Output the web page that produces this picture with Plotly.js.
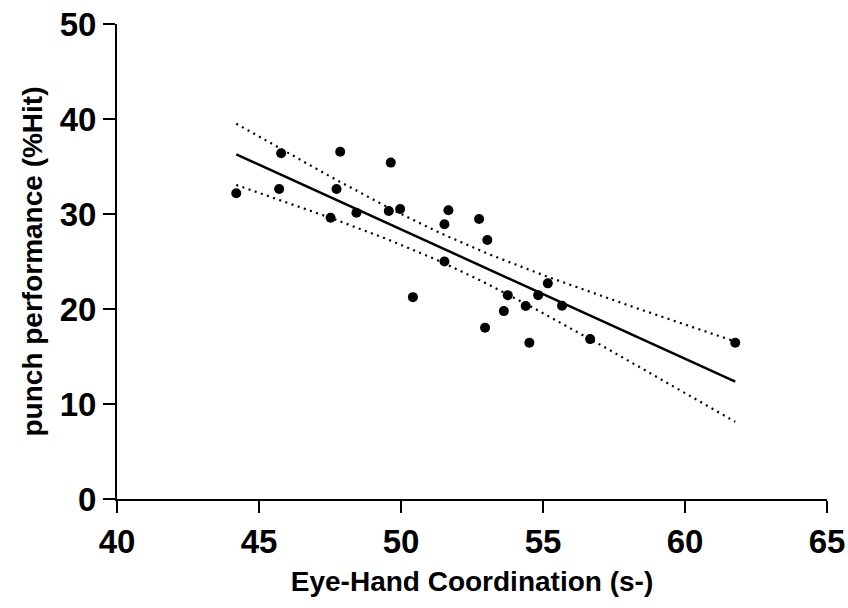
<!DOCTYPE html>
<html>
<head>
<meta charset="utf-8">
<script src="https://cdn.plot.ly/plotly-3.0.1.min.js"></script>
<style>html,body{margin:0;padding:0;background:#fff;}#chart{width:848px;height:608px;}</style>
</head>
<body>
<div id="chart"></div>
<script>
// Data
const eyeHand = [44.20, 45.78, 45.71, 47.86, 47.73, 47.52, 48.43, 49.64, 49.57, 49.97,
                 51.67, 51.53, 51.53, 50.42, 52.75, 53.04, 52.96, 53.76, 53.62, 54.39,
                 54.52, 54.83, 55.17, 55.67, 56.66, 61.77];
const punchHit = [32.18, 36.40, 32.63, 36.56, 32.63, 29.61, 30.14, 35.41, 30.32, 30.53,
                  30.40, 28.93, 25.00, 21.25, 29.47, 27.26, 18.02, 21.46, 19.78, 20.31,
                  16.44, 21.46, 22.70, 20.34, 16.83, 16.44];
const xTicks = [40, 45, 50, 55, 60, 65];
const yTicks = [0, 10, 20, 30, 40, 50];
const xTitle = 'Eye-Hand Coordination (s-)';
const yTitle = 'punch performance (%Hit)';

// Linear regression with 95% confidence band of the mean, computed from the data
const n = eyeHand.length;
const mx = eyeHand.reduce((a, b) => a + b, 0) / n;
const my = punchHit.reduce((a, b) => a + b, 0) / n;
let sxx = 0, sxy = 0, syy = 0;
for (let i = 0; i < n; i++) {
  const dx = eyeHand[i] - mx, dy = punchHit[i] - my;
  sxx += dx * dx; sxy += dx * dy; syy += dy * dy;
}
const slope = sxy / sxx;
const icpt = my - slope * mx;
const s = Math.sqrt((syy - slope * sxy) / (n - 2));
const tCrit = 2.0639; // t(0.975, df = 24)
const xmin = Math.min(...eyeHand), xmax = Math.max(...eyeHand);
const fx = [], fy = [], lo = [], hi = [];
const steps = 60;
for (let k = 0; k <= steps; k++) {
  const x = xmin + (xmax - xmin) * k / steps;
  const yhat = icpt + slope * x;
  const se = s * Math.sqrt(1 / n + (x - mx) * (x - mx) / sxx);
  fx.push(x); fy.push(yhat); lo.push(yhat - tCrit * se); hi.push(yhat + tCrit * se);
}

const font = 'Liberation Sans, Arial, sans-serif';
const traces = [
  {x: fx, y: hi, mode: 'lines', line: {color: '#000', width: 2.2, dash: '2px,4.5px'}, hoverinfo: 'skip'},
  {x: fx, y: lo, mode: 'lines', line: {color: '#000', width: 2.2, dash: '2px,4.5px'}, hoverinfo: 'skip'},
  {x: fx, y: fy, mode: 'lines', line: {color: '#000', width: 2.5}},
  {x: eyeHand, y: punchHit, mode: 'markers', marker: {color: '#000', size: 10}, cliponaxis: false}
];

const layout = {
  width: 848, height: 608,
  margin: {l: 117, r: 21, t: 24, b: 109},
  paper_bgcolor: '#fff', plot_bgcolor: '#fff',
  showlegend: false,
  font: {family: font, color: '#000'},
  xaxis: {
    range: [40, 65], tickvals: xTicks, ticktext: xTicks.map(String),
    showgrid: false, zeroline: false, showline: true, linecolor: '#000', linewidth: 2,
    ticks: 'outside', ticklen: 12, tickwidth: 2, tickcolor: '#000',
    tickfont: {family: font, size: 33, color: '#000', weight: 'bold'},
    title: {text: '<b>' + xTitle + '</b>', font: {family: font, size: 28, color: '#000'}, standoff: 13}
  },
  yaxis: {
    range: [0, 50], tickvals: yTicks, ticktext: yTicks.map(String),
    showgrid: false, zeroline: false, showline: true, linecolor: '#000', linewidth: 2,
    ticks: 'outside', ticklen: 12, tickwidth: 2, tickcolor: '#000',
    tickfont: {family: font, size: 33, color: '#000', weight: 'bold'},
    title: {text: '<b>' + yTitle + '</b>', font: {family: font, size: 28, color: '#000'}, standoff: 9}
  }
};

Plotly.newPlot('chart', traces, layout, {displayModeBar: false, staticPlot: true});
</script>
</body>
</html>
